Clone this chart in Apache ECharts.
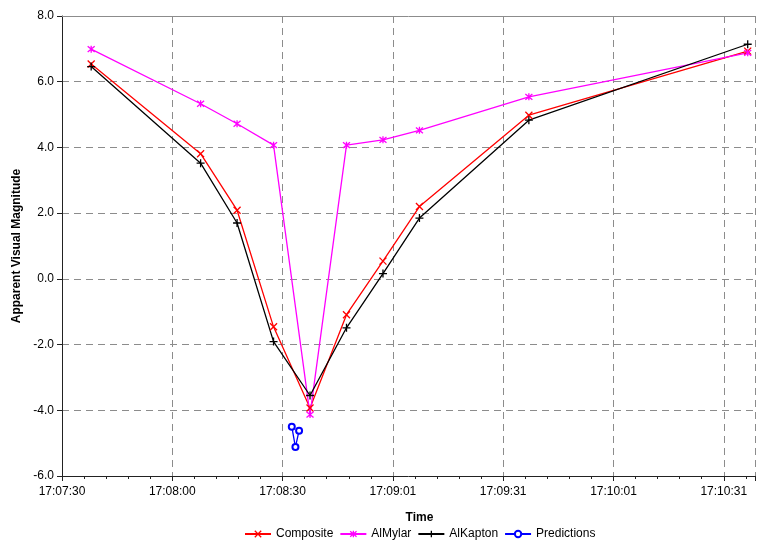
<!DOCTYPE html>
<html>
<head>
<meta charset="utf-8">
<script src="https://cdn.jsdelivr.net/npm/echarts@6/dist/echarts.min.js"></script>
<style>
html,body{margin:0;padding:0;background:#fff;}
#chart{width:767px;height:542px;}
</style>
</head>
<body>
<div id="chart"></div>
<script>
var startTime = "17:07:30";
var times = ["17:07:38","17:08:08","17:08:18","17:08:28","17:08:38","17:08:48","17:08:58","17:09:08","17:09:38","17:10:38"];
var composite = [6.54, 3.81, 2.09, -1.46, -3.93, -1.09, 0.54, 2.20, 4.98, 6.93];
var alMylar   = [6.99, 5.33, 4.72, 4.07, -4.13, 4.07, 4.23, 4.52, 5.54, 6.88];
var alKapton  = [6.46, 3.52, 1.70, -1.91, -3.55, -1.49, 0.16, 1.85, 4.83, 7.14];
var predTimes = ["17:08:33","17:08:34","17:08:35"];
var predictions = [-4.50, -5.12, -4.62];
var yTicks = [-6, -4, -2, 0, 2, 4, 6, 8];

function toSec(s){var p=s.split(":").map(Number);return p[0]*3600+p[1]*60+p[2];}
var t0 = toSec(startTime);
function pairs(ts, vs){return ts.map(function(t,i){return [toSec(t)-t0, vs[i]];});}
function fmtTime(v){
  var s = Math.round(t0 + v);
  var h = Math.floor(s/3600), m = Math.floor((s%3600)/60), sec = s%60;
  function p(n){return (n<10?"0":"")+n;}
  return h+":"+p(m)+":"+p(sec);
}

var xPath = 'path://M0,0L10,10M10,0L0,10';
var starPath = 'path://M0,0L10,10M10,0L0,10M5,-1L5,11';
var plusPath = 'path://M5,0L5,10M0,5L10,5';

var font = 'Liberation Sans, Arial, sans-serif';
var chart = echarts.init(document.getElementById('chart'));
chart.setOption({
  animation:false,
  backgroundColor:'#fff',
  textStyle:{fontFamily:font},
  grid:{left:62,right:12,top:16,bottom:66,containLabel:false},
  xAxis:[{
    type:'value', min:0, max:190, interval:30.24,
    name:'Time', nameLocation:'middle', nameGap:36,
    nameTextStyle:{fontWeight:'bold',fontSize:12,color:'#000',padding:[0,0,0,22]},
    axisLine:{show:true,onZero:false,lineStyle:{color:'#222',width:1}},
    axisTick:{show:true,length:5,lineStyle:{color:'#222'}},
    minorTick:{show:true,splitNumber:5,length:3,lineStyle:{color:'#222'}},
    axisLabel:{formatter:fmtTime,fontSize:12,color:'#000',margin:10,showMaxLabel:false},
    splitLine:{show:true,lineStyle:{color:'#8c8c8c',type:[7,5],width:1}}
  },{
    type:'value', position:'top', min:0, max:190,
    axisLine:{show:true,onZero:false,lineStyle:{color:'#8c8c8c',width:1}},
    axisTick:{show:false}, axisLabel:{show:false}, splitLine:{show:false}
  }],
  yAxis:{
    type:'value', min:yTicks[0], max:yTicks[yTicks.length-1], interval:2,
    name:'Apparent Visual Magnitude', nameLocation:'middle', nameGap:36,
    nameTextStyle:{fontWeight:'bold',fontSize:12,color:'#000'},
    axisLine:{show:true,onZero:false,lineStyle:{color:'#222',width:1}},
    axisTick:{show:true,length:5,lineStyle:{color:'#222'}},
    axisLabel:{formatter:function(v){return v.toFixed(1);},fontSize:12,color:'#000',margin:8},
    splitLine:{show:true,lineStyle:{color:'#8c8c8c',type:[7,5],width:1}}
  },
  legend:{
    bottom:2, left:244, padding:0,
    itemWidth:26, itemHeight:8, itemGap:6,
    textStyle:{fontSize:12,color:'#000'},
    data:[
      {name:'Composite',itemStyle:{color:'none',borderColor:'#ff0000',borderWidth:1.3}},
      {name:'AlMylar',itemStyle:{color:'none',borderColor:'#ff00ff',borderWidth:1.3}},
      {name:'AlKapton',itemStyle:{color:'none',borderColor:'#000000',borderWidth:1.3}},
      'Predictions'
    ]
  },
  series:[
    {name:'Composite',type:'line',data:pairs(times,composite),symbol:xPath,symbolSize:7,
     lineStyle:{color:'#ff0000',width:1.3},itemStyle:{color:'none',borderColor:'#ff0000',borderWidth:1.3}},
    {name:'AlMylar',type:'line',data:pairs(times,alMylar),symbol:starPath,symbolSize:7,
     lineStyle:{color:'#ff00ff',width:1.3},itemStyle:{color:'none',borderColor:'#ff00ff',borderWidth:1.3}},
    {name:'AlKapton',type:'line',data:pairs(times,alKapton),symbol:plusPath,symbolSize:8,
     lineStyle:{color:'#000000',width:1.3},itemStyle:{color:'none',borderColor:'#000000',borderWidth:1.3}},
    {name:'Predictions',type:'line',data:pairs(predTimes,predictions),symbol:'emptyCircle',symbolSize:6,
     lineStyle:{color:'#0000ff',width:1.3},itemStyle:{color:'#0000ff',borderColor:'#0000ff',borderWidth:1.2}}
  ]
});
</script>
</body>
</html>
